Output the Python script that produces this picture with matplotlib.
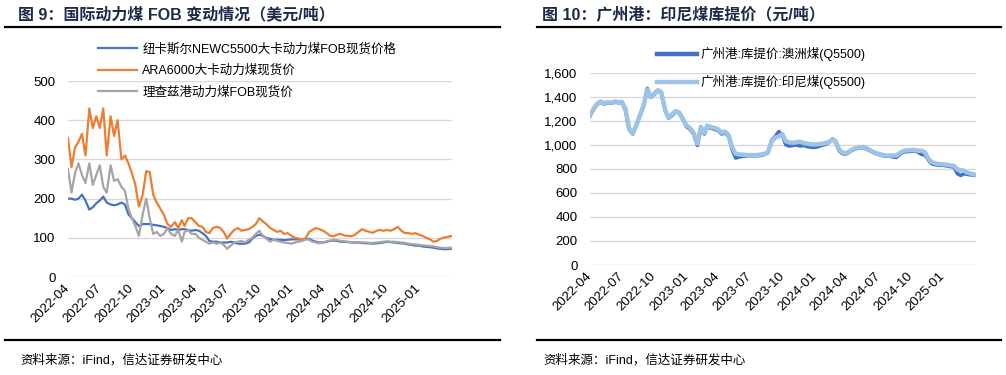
import pandas as pd
import matplotlib.pyplot as plt
import matplotlib.dates as mdates
from matplotlib.lines import Line2D

plt.rcParams['font.family'] = ['Liberation Sans', 'Noto Sans CJK SC']

# dates: 1st, 11th and 21st of every month, Apr-2022 .. Mar-2025, plus last print
months = pd.period_range('2022-04', '2025-03', freq='M')
dates = [pd.Timestamp(year=m.year, month=m.month, day=d) for m in months for d in (1, 11, 21)]
dates.append(pd.Timestamp('2025-04-05'))

# ---- left chart: international thermal coal FOB (USD/t)
newc = [200, 200, 197, 200, 210, 195, 172, 178, 188, 195, 205, 190,
        185, 183, 185, 190, 185, 160, 150, 140, 130, 135, 135, 135,
        133, 132, 130, 128, 125, 120, 122, 120, 122, 122, 120, 118,
        120, 118, 112, 105, 92, 90, 90, 88, 88, 88, 90, 88,
        85, 85, 85, 88, 98, 105, 108, 105, 100, 97, 95, 95,
        95, 94, 95, 96, 96, 96, 95, 97, 97, 93, 90, 88,
        88, 90, 92, 93, 92, 90, 90, 89, 88, 88, 88, 87,
        86, 86, 85, 86, 87, 88, 90, 89, 88, 87, 86, 85,
        83, 82, 80, 80, 78, 77, 76, 75, 73, 72, 71, 71,
        72]
ara = [355, 280, 330, 345, 365, 310, 430, 380, 410, 380, 430, 310,
       410, 360, 400, 300, 310, 290, 265, 235, 180, 210, 270, 268,
       210, 190, 175, 158, 135, 128, 140, 125, 145, 130, 150, 150,
       140, 130, 128, 115, 112, 125, 128, 125, 115, 98, 110, 120,
       125, 118, 120, 122, 128, 135, 150, 142, 135, 125, 120, 115,
       118, 110, 112, 105, 100, 98, 95, 100, 115, 120, 125, 122,
       118, 112, 105, 104, 108, 110, 106, 105, 104, 108, 115, 122,
       118, 115, 113, 118, 120, 118, 120, 118, 122, 128, 118, 112,
       112, 110, 112, 108, 105, 100, 96, 90, 92, 97, 100, 102,
       105]
rbct = [275, 215, 265, 290, 260, 240, 290, 235, 260, 285, 230, 215,
        285, 245, 250, 230, 220, 175, 150, 130, 105, 160, 200, 150,
        110, 115, 105, 110, 125, 110, 105, 120, 90, 115, 120, 110,
        110, 100, 95, 90, 85, 88, 85, 88, 82, 72, 80, 88,
        90, 92, 88, 95, 100, 110, 118, 105, 98, 90, 95, 92,
        90, 88, 87, 85, 88, 90, 92, 96, 95, 90, 88, 86,
        88, 91, 93, 95, 94, 92, 91, 90, 89, 89, 89, 88,
        88, 87, 87, 88, 89, 90, 91, 90, 90, 89, 88, 87,
        85, 84, 83, 82, 81, 80, 79, 78, 76, 75, 74, 74,
        75]

# ---- right chart: Guangzhou port ex-warehouse price (CNY/t)
gz_aus = [1240, 1295, 1335, 1355, 1340, 1350, 1345, 1355, 1350, 1350, 1290, 1130,
          1090, 1160, 1240, 1325, 1470, 1395, 1420, 1450, 1435, 1285, 1220, 1245,
          1275, 1265, 1215, 1150, 1130, 1090, 995, 1140, 1090, 1150, 1140, 1130,
          1120, 1090, 1100, 1070, 960, 890, 900, 905, 908, 910, 908, 910,
          912, 920, 935, 1040, 1070, 1110, 1080, 1000, 990, 995, 1000, 990,
          995, 985, 980, 978, 985, 995, 1005, 1020, 1050, 1025, 950, 925,
          925, 945, 960, 970, 975, 975, 960, 945, 930, 920, 912, 905,
          905, 900, 895, 925, 940, 945, 945, 950, 940, 920, 915, 870,
          840, 835, 830, 830, 825, 820, 815, 760, 745, 760, 755, 750,
          745]
gz_indo = [1250, 1300, 1340, 1360, 1345, 1355, 1350, 1360, 1355, 1355, 1300, 1140,
           1095, 1165, 1245, 1330, 1460, 1400, 1425, 1455, 1440, 1290, 1225, 1255,
           1280, 1270, 1220, 1160, 1140, 1100, 1010, 1150, 1100, 1160, 1150, 1140,
           1130, 1100, 1110, 1080, 980, 925, 920, 918, 915, 915, 914, 915,
           920, 925, 940, 1030, 1060, 1070, 1090, 1030, 1020, 1017, 1022, 1025,
           1015, 1010, 1005, 1003, 1005, 1008, 1015, 1025, 1045, 1030, 960, 935,
           930, 950, 965, 975, 980, 982, 965, 950, 935, 925, 918, 912,
           910, 912, 910, 935, 950, 955, 955, 958, 950, 952, 935, 880,
           855, 845, 840, 838, 835, 830, 825, 795, 790, 785, 770, 760,
           750]

quarter_ticks = pd.date_range('2022-04-01', '2025-01-01', freq='QS-JAN')

fig = plt.figure(figsize=(10.06, 3.75), dpi=100)


def style_axes(ax, ymax, ystep, thousands=False):
    ax.set_xlim(dates[0], dates[-1])
    ax.set_ylim(0, ymax)
    ax.set_yticks(range(0, ymax + 1, ystep))
    if thousands:
        ax.yaxis.set_major_formatter(plt.FuncFormatter(lambda v, p: f'{int(v):,}'))
    ax.set_xticks(quarter_ticks)
    ax.xaxis.set_major_formatter(mdates.DateFormatter('%Y-%m'))
    ax.grid(axis='y', color='#D9D9D9', lw=1)
    ax.set_axisbelow(True)
    for s in ax.spines.values():
        s.set_visible(False)
    ax.tick_params(axis='both', length=0, labelsize=9.5, colors='#000000')
    ax.tick_params(axis='y', pad=9)
    ax.tick_params(axis='x', pad=7)
    for lab in ax.get_xticklabels():
        lab.set_rotation(45)
        lab.set_ha('right')
        lab.set_va('center')
        lab.set_rotation_mode('anchor')


# left panel
ax1 = fig.add_axes([0.0676, 0.2613, 0.3817, 0.5227])
ax1.plot(dates, newc, color='#4472C4', lw=1.6, label='纽卡斯尔NEWC5500大卡动力煤FOB现货价格')
ax1.plot(dates, ara, color='#ED7D31', lw=1.6, label='ARA6000大卡动力煤现货价')
ax1.plot(dates, rbct, color='#A5A5A5', lw=1.6, label='理查兹港动力煤FOB现货价')
style_axes(ax1, 500, 100)
ax1.legend(loc='upper left', bbox_to_anchor=(98 / 1006, 1 - 43 / 375), bbox_transform=fig.transFigure,
           frameon=False, fontsize=9, handlelength=3.1, handletextpad=0.45, labelspacing=0.72,
           borderpad=0, borderaxespad=0)

# right panel
ax2 = fig.add_axes([0.5865, 0.2933, 0.3837, 0.5128])
ax2.plot(dates, gz_aus, color='#4472C4', lw=2.6, zorder=3)
ax2.plot(dates, gz_indo, color='#9DC3E6', lw=3.2, zorder=4)
style_axes(ax2, 1600, 200, thousands=True)
handles = [Line2D([], [], color='#4472C4', lw=3.2), Line2D([], [], color='#9DC3E6', lw=3.2)]
ax2.legend(handles, ['广州港:库提价:澳洲煤(Q5500)', '广州港:库提价:印尼煤(Q5500)'],
           loc='upper left', bbox_to_anchor=(657 / 1006, 1 - 47 / 375), bbox_transform=fig.transFigure,
           frameon=False, fontsize=9, handlelength=3.2, handletextpad=0.3, labelspacing=1.15,
           borderpad=0, borderaxespad=0)

# titles, rules and source notes
title_kw = dict(fontsize=11.5, fontweight='bold', color='#1C2B4A', va='center',
                family=['Liberation Sans', 'Noto Sans CJK SC'])
fig.text(18 / 1006, 1 - 14 / 375, '图 9：国际动力煤 FOB 变动情况（美元/吨）', **title_kw)
fig.text(542 / 1006, 1 - 14 / 375, '图 10：广州港：印尼煤库提价（元/吨）', **title_kw)

for x0, x1 in [(5, 500), (537, 1001)]:
    fig.add_artist(Line2D([x0 / 1006, x1 / 1006], [1 - 26.5 / 375] * 2, color='black', lw=1.6))
    fig.add_artist(Line2D([x0 / 1006, x1 / 1006], [1 - 339.5 / 375] * 2, color='black', lw=1.6))

src_kw = dict(fontsize=9, color='#000000', va='center', family=['Liberation Sans', 'Noto Sans CJK SC'])
fig.text(20 / 1006, 1 - 360 / 375, '资料来源：iFind，信达证券研发中心', **src_kw)
fig.text(543 / 1006, 1 - 360 / 375, '资料来源：iFind，信达证券研发中心', **src_kw)

fig.savefig('out.png', dpi=100)
